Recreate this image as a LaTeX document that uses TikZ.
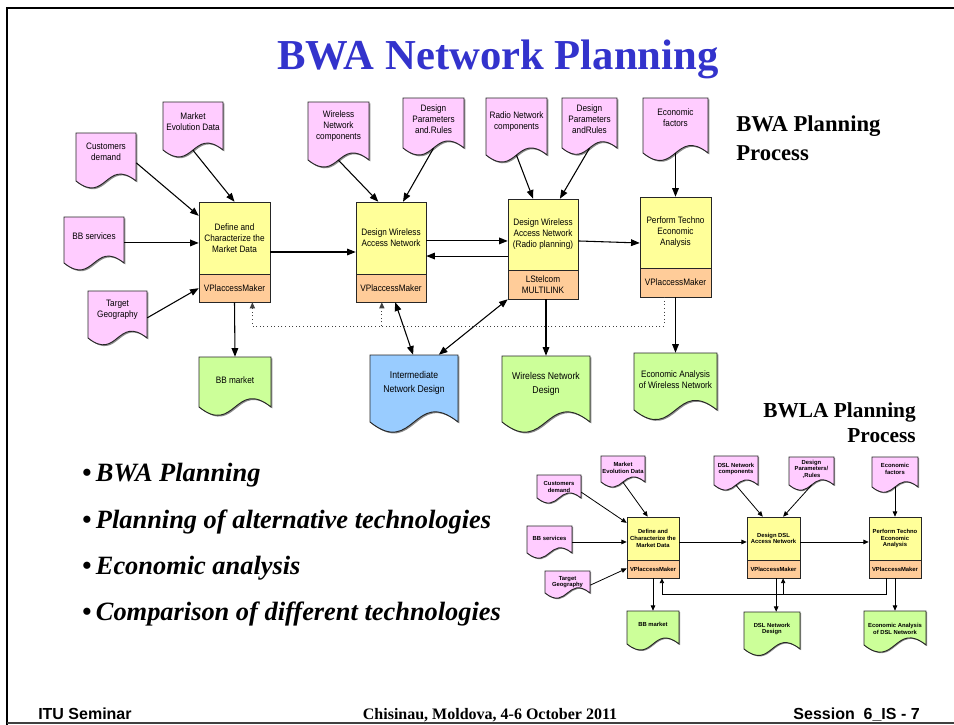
\documentclass[tikz,border=0pt]{standalone}
\usepackage{fontspec}
\setmainfont{Liberation Serif}
\newfontfamily\diagfont[FakeStretch=0.88]{Liberation Sans}
\newfontfamily\plainsans{Liberation Sans}
\usetikzlibrary{arrows.meta,calc,fit}

\definecolor{docpink}{HTML}{FFCCFF}
\definecolor{procyellow}{HTML}{FFFF99}
\definecolor{toolorange}{HTML}{FFCC99}
\definecolor{outgreen}{HTML}{CCFF99}
\definecolor{interblue}{HTML}{99CCFF}
\definecolor{titleblue}{HTML}{3333CC}

\def\shoff{1.3}

% document symbol: name, fill, left, top, right, side bottom, text y, text style, text
\newcommand\docshape[9]{%
  \pgfmathsetmacro\dsxm{(#3+#5)/2}%
  \pgfmathsetmacro\dsup{#6-0.4*(#5-#3)}%
  \pgfmathsetmacro\dsdn{#6+0.4*(#5-#3)}%
  \fill[shadowc, shift={(\shoff,\shoff)}] (#3,#4) -- (#5,#4) -- (#5,#6)
     .. controls (\dsxm,\dsup) and (\dsxm,\dsdn) .. (#3,#6) -- cycle;
  \draw[shapeline, fill=#2] (#3,#4) -- (#5,#4) -- (#5,#6)
     .. controls (\dsxm,\dsup) and (\dsxm,\dsdn) .. (#3,#6) -- cycle;
  \node[fit={(#3,#4) (#5,#6)}, inner sep=0pt] (#1) {};
  \node[#8] (#1-t) at (\dsxm,#7) {#9};
}

% process box with tool field: name, left, top, right, split, bottom, text style, text, tool
\newcommand\procbox[9]{%
  \pgfmathsetmacro\pbxm{(#2+#4)/2}%
  \pgfmathsetmacro\pbtop{(#3+#5)/2}%
  \pgfmathsetmacro\pbbot{(#5+#6)/2}%
  \fill[shadowc, shift={(\shoff,\shoff)}] (#2,#3) rectangle (#4,#6);
  \draw[shapeline, fill=procyellow] (#2,#3) rectangle (#4,#5);
  \draw[shapeline, fill=toolorange] (#2,#5) rectangle (#4,#6);
  \node[fit={(#2,#3) (#4,#6)}, inner sep=0pt] (#1) {};
  \node[#7] (#1-t) at (\pbxm,\pbtop) {#8};
  \node[#7] (#1-tool) at (\pbxm,\pbbot) {#9};
}

\begin{document}
\begin{tikzpicture}[x=0.75pt, y=-0.75pt,
  shapeline/.style={draw=black!85, line width=0.7pt},
  shadowc/.style={fill=black!45},
  txt/.style={font=\diagfont\fontsize{7}{8.3}\selectfont, align=center, inner sep=0pt},
  bigtxt/.style={font=\diagfont\fontsize{7.4}{11}\selectfont, align=center, inner sep=0pt},
  smalltxt/.style={font=\plainsans\bfseries\fontsize{4.4}{5}\selectfont, align=center, inner sep=0pt},
  conn/.style={line width=0.8pt, -{Triangle[length=6.5pt,width=5pt]}},
  biconn/.style={line width=0.8pt, {Triangle[length=6.5pt,width=5pt]}-{Triangle[length=6.5pt,width=5pt]}},
  feedback/.style={dotted, line width=0.7pt, draw=black!75, -{Triangle[length=4.5pt,width=3.8pt]}},
  sconn/.style={line width=0.6pt, -{Triangle[length=4pt,width=3.4pt]}},
  sfeedback/.style={line width=0.6pt, -{Triangle[length=3.6pt,width=3.2pt]}},
  heading/.style={font=\bfseries\fontsize{17}{22}\selectfont, inner sep=0pt},
  bullet/.style={font=\bfseries\itshape\fontsize{19.8}{24}\selectfont, anchor=base west, inner sep=0pt},
  footsans/.style={font=\plainsans\bfseries\fontsize{12}{14}\selectfont, inner sep=0pt},
]
\useasboundingbox (0,0) rectangle (954,725);
\fill[white] (0,0) rectangle (954,725);

% slide frame
\draw[line width=2.2pt] (7,725) -- (7,8) -- (954,8);
\draw[line width=0.9pt, black!75] (7,723) -- (954,723);

% title
\node[font=\bfseries\fontsize{32}{38}\selectfont, text=titleblue, anchor=base, inner sep=0pt]
  (title) at (498,69) {BWA Network Planning};

% ---------------- BWA planning process ----------------
\docshape{cust}{docpink}{76}{133}{136}{181}{152}{txt}{Customers\\demand}
\docshape{mkt}{docpink}{163}{102}{223}{150}{122}{txt}{Market\\Evolution Data}
\docshape{bbs}{docpink}{64}{217}{124}{263}{236}{txt}{BB services}
\docshape{tgeo}{docpink}{88}{291}{147}{338}{310}{txt}{Target\\Geography}
\docshape{wnc}{docpink}{308}{102}{369}{160}{126}{txt}{Wireless\\Network\\components}
\docshape{dpr1}{docpink}{403}{98}{464}{148}{119}{txt}{Design\\Parameters\\and.Rules}
\docshape{rnc}{docpink}{486}{98}{547}{155}{122}{txt}{Radio Network\\components}
\docshape{dpr2}{docpink}{562}{98}{617}{148}{119}{txt}{Design\\Parameters\\andRules}
\docshape{ecf}{docpink}{643}{98}{708}{153}{118}{txt}{Economic\\factors}

\procbox{def}{199}{202}{270}{274}{302}{txt}{Define and\\Characterize the\\Market Data}{VPlaccessMaker}
\procbox{dwa}{356}{202}{426}{274}{302}{txt}{Design Wireless\\Access Network}{VPlaccessMaker}
\procbox{radio}{508}{199}{578}{270}{299}{txt}{Design Wireless\\Access Network\\(Radio planning)}{LStelcom\\MULTILINK}
\procbox{perf}{640}{197}{711}{268}{297}{txt}{Perform Techno\\Economic\\Analysis}{VPlaccessMaker}

\docshape{bbm}{outgreen}{199}{357}{271}{407}{380}{txt}{BB market}
\docshape{ind}{interblue}{370}{355}{458}{422}{383}{bigtxt}{Intermediate\\Network Design}
\docshape{wnd}{outgreen}{502}{356}{590}{422}{384}{bigtxt}{Wireless Network\\Design}
\docshape{eaw}{outgreen}{634}{353}{717}{410}{380}{txt}{Economic Analysis\\of Wireless Network}

\draw[conn] ($(cust.north east)!0.62!(cust.south east)$) -- ($(def.north west)!0.14!(def.south west)$);
\draw[conn] (mkt.south) -- (def.north);
\coordinate (defin) at ($(def.north west)!0.41!(def.south west)$);
\draw[conn] (bbs.east |- defin) -- (defin);
\draw[conn] ($(tgeo.north east)!0.57!(tgeo.south east)$) -- ($(def.north west)!0.86!(def.south west)$);
\draw[conn] (def.east) -- (dwa.west);
\coordinate (dwaout) at ($(dwa.north east)!0.39!(dwa.south east)$);
\draw[conn] (dwaout) -- (radio.west |- dwaout);
\coordinate (radback) at ($(radio.north west)!0.57!(radio.south west)$);
\draw[conn] (radback) -- (dwa.east |- radback);
\draw[conn] ($(radio.north east)!0.42!(radio.south east)$) -- ($(perf.north west)!0.46!(perf.south west)$);
\draw[conn] (wnc.south) -- ($(dwa.north west)!0.32!(dwa.north east)$);
\draw[conn] (dpr1.south) -- ($(dwa.north west)!0.67!(dwa.north east)$);
\draw[conn] (rnc.south) -- ($(radio.north west)!0.36!(radio.north east)$);
\draw[conn] (dpr2.south) -- ($(radio.north west)!0.74!(radio.north east)$);
\draw[conn] (ecf.south) -- (perf.north);
\draw[conn] (def.south) -- (bbm.north);
\draw[biconn] ($(dwa.south west)!0.56!(dwa.south east)$) -- ($(ind.north west)!0.49!(ind.north east)$);
\draw[biconn] (radio.south west) -- ($(ind.north west)!0.78!(ind.north east)$);
\draw[conn] (wnd.north |- radio.south) -- (wnd.north);
\draw[conn] (perf.south) -- (eaw.north);

% dotted feedback loop
\coordinate (perfD) at ($(perf.south west)!0.34!(perf.south east)$);
\coordinate (defD) at ($(def.south west)!0.75!(def.south east)$);
\coordinate (dwaD) at ($(dwa.south west)!0.37!(dwa.south east)$);
\coordinate (fbmain) at (0,326);
\draw[feedback] (perfD) -- (perfD |- fbmain) -| (defD);
\draw[feedback] (dwaD |- fbmain) -- (dwaD);

\node[heading, anchor=base west] (bwa-h1) at (736,131) {BWA Planning};
\node[heading, anchor=base west] (bwa-h2) at (736,160) {Process};

% ---------------- bullet list ----------------
\node[bullet] (b1) at (82,481) {{\upshape\textbullet}\,BWA Planning};
\node[bullet] (b2) at (82,528) {{\upshape\textbullet}\,Planning of alternative technologies};
\node[bullet] (b3) at (82,574) {{\upshape\textbullet}\,Economic analysis};
\node[bullet] (b4) at (82,620) {{\upshape\textbullet}\,Comparison of different technologies};

% ---------------- BWLA planning process ----------------
\node[heading, font=\bfseries\fontsize{16}{20}\selectfont, anchor=base east] (bwla-h1) at (916,417) {BWLA Planning};
\node[heading, font=\bfseries\fontsize{16}{20}\selectfont, anchor=base east] (bwla-h2) at (916,442) {Process};

\def\shoff{1.0}
\docshape{scust}{docpink}{537}{475}{581}{498}{487}{smalltxt}{Customers\\demand}
\docshape{smkt}{docpink}{601}{456}{645}{482}{468}{smalltxt}{Market\\Evolution Data}
\docshape{sbbs}{docpink}{527}{526}{572}{553}{538}{smalltxt}{BB services}
\docshape{stgeo}{docpink}{545}{571}{590}{593}{582}{smalltxt}{Target\\Geography}
\docshape{sdslc}{docpink}{714}{456}{758}{485}{469}{smalltxt}{DSL Network\\components}
\docshape{sdpr}{docpink}{789}{457}{834}{485}{469}{smalltxt}{Design\\Parameters/\\,Rules}
\docshape{secf}{docpink}{872}{457}{918}{487}{469}{smalltxt}{Economic\\factors}

\procbox{sdef}{627}{517}{679}{560}{578}{smalltxt}{Define and\\Characterize the\\Market Data}{VPlaccessMaker}
\procbox{sdsl}{747}{517}{800}{560}{578}{smalltxt}{Design DSL\\Access Network}{VPlaccessMaker}
\procbox{sperf}{869}{517}{921}{560}{578}{smalltxt}{Perform Techno\\Economic\\Analysis}{VPlaccessMaker}

\docshape{sbbm}{outgreen}{627}{611}{679}{644}{624}{smalltxt}{BB market}
\docshape{sdnd}{outgreen}{744}{612}{800}{649}{629}{smalltxt}{DSL Network\\Design}
\docshape{seadsl}{outgreen}{864}{611}{926}{645}{629}{smalltxt}{Economic Analysis\\of DSL Network}

\draw[sconn] ($(scust.north east)!0.74!(scust.south east)$) -- ($(sdef.north west)!0.1!(sdef.south west)$);
\draw[sconn] (smkt.south) -- ($(sdef.north west)!0.4!(sdef.north east)$);
\coordinate (sdefin) at ($(sdef.north west)!0.41!(sdef.south west)$);
\draw[sconn] (sbbs.east |- sdefin) -- (sdefin);
\draw[sconn] ($(stgeo.north east)!0.64!(stgeo.south east)$) -- ($(sdef.north west)!0.84!(sdef.south west)$);
\draw[sconn] (sdefin -| sdef.east) -- (sdefin -| sdsl.west);
\draw[sconn] (sdefin -| sdsl.east) -- (sdefin -| sperf.west);
\draw[sconn] (sdslc.south) -- ($(sdsl.north west)!0.3!(sdsl.north east)$);
\draw[sconn] (sdpr.south) -- ($(sdsl.north west)!0.68!(sdsl.north east)$);
\draw[sconn] (secf.south) -- (sperf.north);
\draw[sconn] (sdef.south) -- (sbbm.north);
\coordinate (sdslD) at ($(sdsl.south west)!0.55!(sdsl.south east)$);
\draw[sconn] (sdslD) -- (sdslD |- sdnd.north);
\draw[sconn] (sperf.south) -- (seadsl.north);

% solid feedback loop
\coordinate (sperfD) at ($(sperf.south west)!0.33!(sperf.south east)$);
\coordinate (sdefD) at ($(sdef.south west)!0.67!(sdef.south east)$);
\coordinate (sdslU) at ($(sdsl.south west)!0.68!(sdsl.south east)$);
\coordinate (fbsmall) at (0,594);
\draw[sfeedback] (sperfD) -- (sperfD |- fbsmall) -| (sdefD);
\draw[sfeedback] (sdslU |- fbsmall) -- (sdslU);

% ---------------- footer ----------------
\node[footsans, anchor=base west] (foot-l) at (38,719) {ITU Seminar};
\node[font=\bfseries\fontsize{12}{14}\selectfont, anchor=base, inner sep=0pt] (foot-c) at (490,719) {Chisinau, Moldova, 4-6 October 2011};
\node[footsans, anchor=base east] (foot-r) at (920,719) {Session\ \ 6\_IS - 7};
\end{tikzpicture}
\end{document}
